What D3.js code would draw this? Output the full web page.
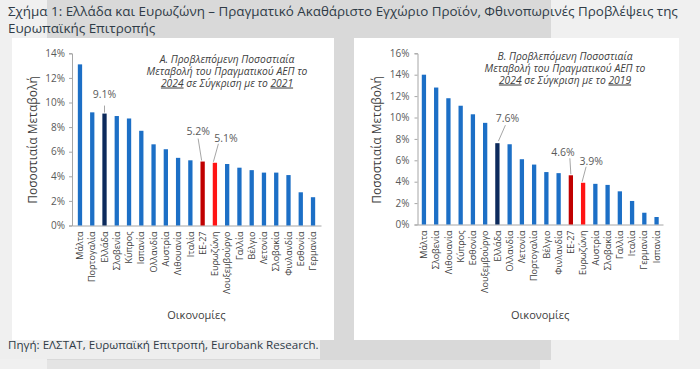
<!DOCTYPE html>
<html>
<head>
<meta charset="utf-8">
<script src="https://cdn.jsdelivr.net/npm/d3@7"></script>
<style>
  body { margin: 0; background: #f0f0f0; }
  text { font-family: "Open Sans", sans-serif; }
</style>
</head>
<body>
<svg id="chart" width="700" height="369"></svg>
<script>
// Panel A: 2024 vs 2021
const countriesA = ["Μάλτα", "Πορτογαλία", "Ελλάδα", "Σλοβενία", "Κύπρος", "Ισπανία", "Ολλανδία", "Αυστρία", "Λιθουανία", "Ιταλία",
    "ΕΕ-27", "Ευρωζώνη", "Λουξεμβούργο", "Γαλλία", "Βέλγιο", "Λετονία", "Σλοβακία", "Φινλανδία", "Εσθονία", "Γερμανία"];
const valuesA = [13.1, 9.2, 9.1, 8.9, 8.7, 7.7, 6.6, 6.2, 5.5, 5.3, 5.2, 5.1, 5.0, 4.7, 4.5, 4.3, 4.3, 4.1, 2.7, 2.3];
const ticksA = [0, 2, 4, 6, 8, 10, 12, 14];

// Panel B: 2024 vs 2019
const countriesB = ["Μάλτα", "Σλοβενία", "Λιθουανία", "Κύπρος", "Εσθονία", "Λουξεμβούργο", "Ελλάδα", "Ολλανδία", "Λετονία", "Πορτογαλία",
    "Βέλγιο", "Φινλανδία", "ΕΕ-27", "Ευρωζώνη", "Αυστρία", "Σλοβακία", "Γαλλία", "Ιταλία", "Γερμανία", "Ισπανία"];
const valuesB = [14.0, 12.8, 11.8, 11.1, 10.3, 9.5, 7.6, 7.5, 6.1, 5.6, 4.9, 4.8, 4.6, 3.9, 3.8, 3.7, 3.1, 2.2, 1.1, 0.7];
const ticksB = [0, 2, 4, 6, 8, 10, 12, 14, 16];

// Bars that get a value label
const labelled = ["Ελλάδα", "ΕΕ-27", "Ευρωζώνη"];

const titleLines = ["Σχήμα 1: Ελλάδα και Ευρωζώνη – Πραγματικό Ακαθάριστο Εγχώριο Προϊόν, Φθινοπωρινές Προβλέψεις της",
    "Ευρωπαϊκής Επιτροπής"];
const source = "Πηγή: ΕΛΣΤΑΤ, Ευρωπαϊκή Επιτροπή, Eurobank Research.";
const yTitle = "Ποσοστιαία Μεταβολή";
const xTitle = "Οικονομίες";

const colors = { bar: "#1c6fc6", "Ελλάδα": "#0c2a5c", "ΕΕ-27": "#c00000", "Ευρωζώνη": "#ff1414" };

const svg = d3.select("#chart");

// background shapes (page + highlighted bands + white panels)
svg.append("rect").attr("width", 700).attr("height", 369).attr("fill", "#f0f0f0");
svg.append("rect").attr("x", 47).attr("y", 0).attr("width", 504).attr("height", 360).attr("fill", "#d9d9d9");
svg.append("rect").attr("x", 47).attr("y", 360).attr("width", 493).attr("height", 9).attr("fill", "#e4e4e4");
svg.append("rect").attr("x", 0).attr("y", 340).attr("width", 320).attr("height", 19).attr("fill", "#eeeeee");
svg.append("rect").attr("x", 12).attr("y", 38).attr("width", 322).attr("height", 302).attr("fill", "#fff");
svg.append("rect").attr("x", 354).attr("y", 38).attr("width", 325).attr("height", 302).attr("fill", "#fff");

svg.selectAll(".title").data(titleLines).join("text")
    .attr("class", "title")
    .attr("x", 8).attr("y", (d, i) => 16 + i * 17)
    .attr("font-size", 13.4).attr("fill", "#2f3b47")
    .text(d => d);

svg.append("text").attr("x", 8).attr("y", 349)
    .attr("font-size", 11.6).attr("fill", "#2f3b47").text(source);

/*
    Draws one bar panel. Leader offsets are relative to
    the bar centre and the bar top.
*/
function drawPanel(opt) {
    let g = svg.append("g");

    let x = d3.scaleBand().domain(opt.names).range([opt.left, opt.right])
        .paddingInner(0.65).paddingOuter(opt.outer);
    let y = d3.scaleLinear().domain([0, d3.max(opt.ticks)]).range([opt.zero, 53.3]);

    let yAxis = d3.axisLeft(y).tickValues(opt.ticks).tickFormat(d => d + "%")
        .tickSize(3).tickPadding(opt.pad);
    let ya = g.append("g").attr("transform", `translate(${opt.left},0)`).call(yAxis);
    ya.selectAll("path, line").attr("stroke", "#a6a6a6");
    ya.selectAll("text").attr("font-size", 10).attr("fill", "#595959")
        .style("font-family", "'Open Sans', sans-serif");

    let xAxis = d3.axisBottom(x).tickSize(0);
    let xa = g.append("g").attr("transform", `translate(0,${opt.zero})`).call(xAxis);
    xa.select("path").attr("stroke", "#a6a6a6");
    xa.selectAll("text")
        .attr("x", -6).attr("y", 0).attr("dy", "0.35em")
        .attr("transform", "rotate(-90)")
        .style("text-anchor", "end")
        .style("font-family", "'Open Sans', sans-serif")
        .attr("font-size", 9).attr("fill", "#404040");

    g.selectAll(".bar").data(opt.names).join("rect")
        .attr("class", "bar")
        .attr("x", d => x(d))
        .attr("width", x.bandwidth())
        .attr("y", (d, i) => y(opt.values[i]))
        .attr("height", (d, i) => opt.zero - y(opt.values[i]))
        .attr("fill", d => colors[d] || colors.bar);

    // value labels with leader lines
    labelled.forEach(name => {
        let i = opt.names.indexOf(name);
        let cx = x(name) + x.bandwidth() / 2;
        let ty = y(opt.values[i]);
        let o = opt.leaders[name];
        g.append("line")
            .attr("x1", cx + o.l[0]).attr("y1", ty + o.l[1])
            .attr("x2", cx + o.l[2]).attr("y2", ty + o.l[3])
            .attr("stroke", "#a6a6a6").attr("stroke-width", 1);
        g.append("text")
            .attr("x", cx + o.t[0]).attr("y", ty + o.t[1])
            .attr("text-anchor", "middle").attr("font-size", 10.5).attr("fill", "#595959")
            .text(opt.values[i].toFixed(1) + "%");
    });

    // italic panel heading, one text per line
    let headStyle = sel => sel.attr("text-anchor", "middle").attr("font-size", 10.3)
        .attr("font-style", "italic").attr("fill", "#404040");
    opt.head.forEach((line, k) => {
        g.append("text").call(headStyle)
            .attr("x", opt.headX).attr("y", opt.headY + k * 12).text(line);
    });
    let l3 = g.append("text").call(headStyle)
        .attr("x", opt.headX).attr("y", opt.headY + 2 * 12);
    l3.append("tspan").attr("text-decoration", "underline").text("2024");
    l3.append("tspan").text(" σε Σύγκριση με το ");
    l3.append("tspan").attr("text-decoration", "underline").text(opt.base);

    g.append("text")
        .attr("transform", `translate(${opt.yTitleX},140) rotate(-90)`)
        .attr("text-anchor", "middle").attr("dy", "0.35em")
        .attr("font-size", 12).attr("fill", "#404040").text(yTitle);

    g.append("text")
        .attr("x", (opt.left + opt.right) / 2).attr("y", 319)
        .attr("text-anchor", "middle").attr("font-size", 11).attr("fill", "#404040")
        .text(xTitle);
}

drawPanel({
    names: countriesA, values: valuesA, ticks: ticksA,
    left: 72, right: 321, outer: 0.475, zero: 225.5, pad: 4,
    headX: 227, headY: 62.5, base: "2021",
    head: ["Α. Προβλεπόμενη Ποσοστιαία", "Μεταβολή του Πραγματικού ΑΕΠ το"],
    yTitleX: 33,
    leaders: {
        "Ελλάδα": { l: [0, -1, 0, -8], t: [0, -16] },
        "ΕΕ-27": { l: [-1, -1, -4.5, -23], t: [-4.5, -26.5] },
        "Ευρωζώνη": { l: [-1.5, -1, 3.5, -19], t: [11, -20.5] }
    }
});

drawPanel({
    names: countriesB, values: valuesB, ticks: ticksB,
    left: 417.5, right: 663, outer: 0.35, zero: 224.5, pad: 5,
    headX: 565, headY: 59.5, base: "2019",
    head: ["Β. Προβλεπόμενη Ποσοστιαία", "Μεταβολή του Πραγματικού ΑΕΠ το"],
    yTitleX: 377,
    leaders: {
        "Ελλάδα": { l: [1, -2, 8, -18], t: [10, -21.5] },
        "ΕΕ-27": { l: [0, -1, -1, -17], t: [-8, -19.5] },
        "Ευρωζώνη": { l: [-1, -1, 3, -16], t: [8, -17.5] }
    }
});
</script>
</body>
</html>
